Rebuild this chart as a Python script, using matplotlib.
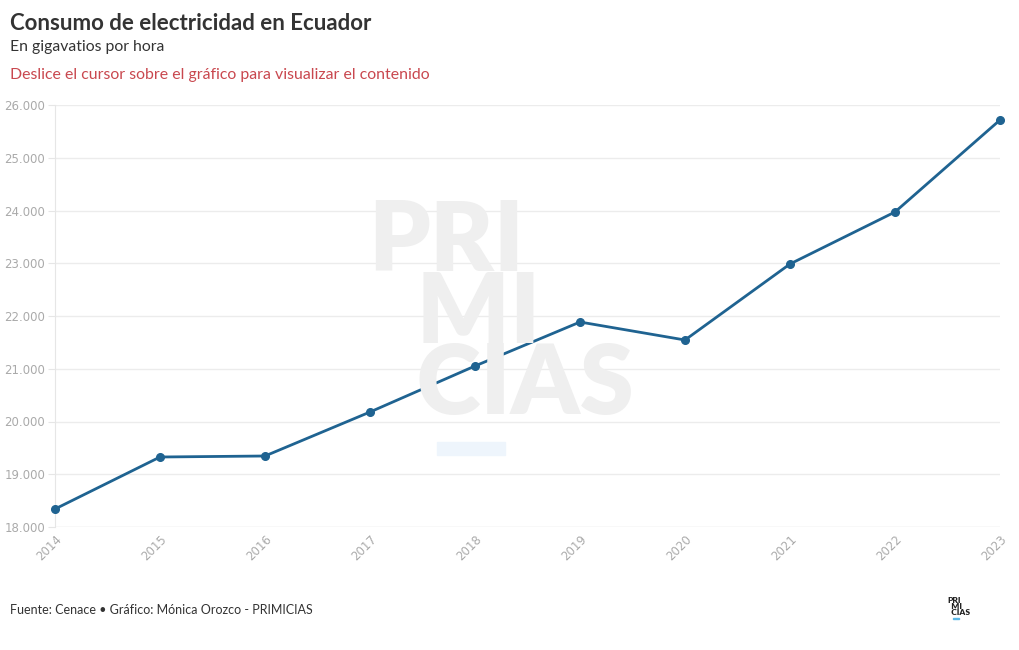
import matplotlib.pyplot as plt
from matplotlib.ticker import FuncFormatter
from matplotlib.patches import Rectangle

years = [2014, 2015, 2016, 2017, 2018, 2019, 2020, 2021, 2022, 2023]
consumo = [18341, 19327, 19346, 20180, 21052, 21886, 21545, 22986, 23972, 25716]
y_ticks = [18000, 19000, 20000, 21000, 22000, 23000, 24000, 25000, 26000]

title = 'Consumo de electricidad en Ecuador'
subtitle = 'En gigavatios por hora'
note = 'Deslice el cursor sobre el gráfico para visualizar el contenido'
source = 'Fuente: Cenace • Gráfico: Mónica Orozco - PRIMICIAS'

plt.rcParams['font.family'] = ['Lato', 'DejaVu Sans']

fig = plt.figure(figsize=(10.2, 6.5), dpi=100)
ax = fig.add_axes([55 / 1020, 123 / 650, 945 / 1020, 422 / 650])

# watermark, one block so the lines share a single box
fig.text(368 / 1020, 1 - 414 / 650, 'PRI\n\u2002MI\n\u2002CIAS', fontsize=70, fontweight='heavy',
         color='#efefef', ha='left', va='baseline', linespacing=0.76, zorder=0)
fig.patches.append(Rectangle((437 / 1020, 1 - 455 / 650), 68 / 1020, 13 / 650,
                             transform=fig.transFigure, color='#eef5fc', zorder=0))

ax.patch.set_alpha(0)
ax.plot(years, consumo, color='#1f6391', lw=2, marker='o', ms=5.5, zorder=3, clip_on=False)

ax.set_xlim(2014, 2023)
ax.set_ylim(18000, 26000)
ax.set_yticks(y_ticks)
ax.set_xticks(years)
ax.yaxis.set_major_formatter(FuncFormatter(lambda v, p: f'{int(v):,}'.replace(',', '.')))
ax.grid(axis='y', color='#ececec', lw=1)
for s in ['top', 'right', 'bottom']:
    ax.spines[s].set_visible(False)
ax.spines['left'].set_color('#e6e6e6')
ax.axhline(18000, color='#ececec', lw=1, zorder=1)
ax.tick_params(axis='y', length=5, color='#e6e6e6', labelcolor='#aaaaaa', labelsize=8.5, pad=2)
ax.tick_params(axis='x', length=0, labelcolor='#aaaaaa', labelsize=8.5, pad=4)
for lab in ax.get_xticklabels():
    lab.set_rotation(45)
    lab.set_ha('right')
    lab.set_rotation_mode('anchor')
for lab in ax.get_yticklabels() + ax.get_xticklabels():
    lab.set_family('DejaVu Sans')

fig.text(10 / 1020, 1 - 24 / 650, title, fontsize=16, fontweight='bold', color='#333333', va='center')
fig.text(10 / 1020, 1 - 47 / 650, subtitle, fontsize=11.3, color='#333333', va='center')
fig.text(10 / 1020, 1 - 75 / 650, note, fontsize=11.4, color='#c9484f', va='center')
fig.text(10 / 1020, 1 - 610 / 650, source, fontsize=9, color='#333333', va='center')

# small logo bottom right
fig.text(947 / 1020, 1 - 615 / 650, 'PRI\n\u2002MI\n\u2002CIAS', fontsize=6, fontweight='heavy',
         color='#222222', ha='left', va='baseline', linespacing=0.85)
fig.patches.append(Rectangle((953 / 1020, 1 - 619 / 650), 6 / 1020, 1.5 / 650,
                             transform=fig.transFigure, color='#5bb8e8'))

fig.savefig('out.png', dpi=100)
